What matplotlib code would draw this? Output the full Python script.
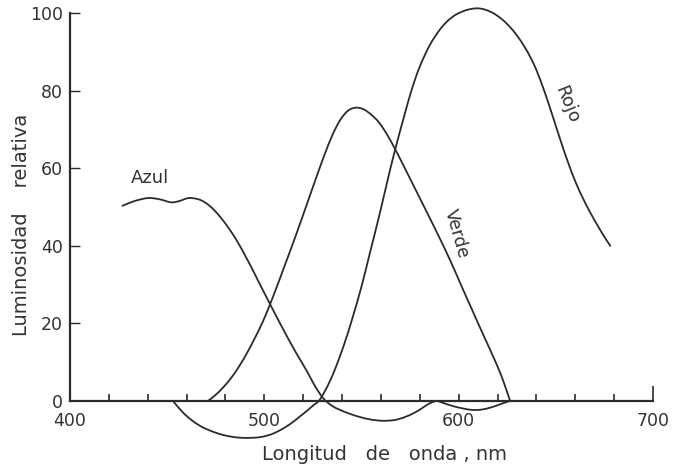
import matplotlib
matplotlib.use("Agg")
import numpy as np
import matplotlib.pyplot as plt
from matplotlib.path import Path
from matplotlib.patches import PathPatch
from matplotlib.ticker import FixedLocator

# Curvas de luminosidad relativa (longitud de onda en nm, luminosidad relativa)
azul_nm = [427, 433, 440, 446, 452, 456, 461, 466, 470, 474, 478, 482, 486, 490, 494,
           498, 502, 506, 510, 514, 518, 522, 525, 528, 531, 535, 539, 544, 549, 555, 561,
           567, 572, 577, 581, 584, 587, 589, 592, 597, 602, 607, 612, 617, 621, 625, 626.5]
azul_val = [50.3, 51.5, 52.3, 52.0, 51.2, 51.5, 52.3, 52.0, 51.0, 49.3, 47.0, 44.3, 41.2, 37.6, 33.8,
            29.8, 25.9, 22.0, 18.2, 14.5, 11.0, 7.6, 4.8, 2.3, 0.3, -1.3, -2.3, -3.3, -4.1, -4.8, -5.1,
            -4.9, -4.2, -3.1, -1.9, -0.9, -0.2, 0.0, -0.5, -1.3, -1.9, -2.3, -2.2, -1.6, -0.9, -0.2, 0.0]

verde_nm = [471, 475, 479, 483, 487, 491, 495, 499, 503, 507, 511, 515, 519, 523, 527,
            531, 535, 539, 543, 547, 551, 555, 559, 563, 567, 571, 575, 580, 585, 590,
            594, 598, 602, 607, 611, 616, 620, 623, 626.5]
verde_val = [0.0, 1.6, 3.6, 6.0, 8.9, 12.3, 16.1, 20.2, 25.0, 30.2, 35.6, 41.0, 46.6, 52.3, 58.0,
             63.5, 68.5, 72.4, 74.8, 75.6, 75.2, 73.8, 71.8, 68.8, 65.2, 61.3, 57.3, 52.3, 47.3, 42.2,
             38.0, 33.6, 29.0, 23.4, 18.9, 13.4, 8.9, 5.1, 0.0]

rojo_nm = [453, 458, 463, 468, 474, 480, 486, 492, 498, 504, 510, 515, 519, 522, 525, 528,
           531, 534, 537, 541, 545, 550, 554, 559, 563, 567, 572, 576, 580, 585,
           590, 594, 598, 602, 606, 610, 614, 618, 622, 626, 630, 634, 637, 640, 644, 648,
           652, 656, 660, 664, 668, 672, 675, 678]
rojo_val = [0.0, -2.9, -5.1, -6.7, -8.0, -8.9, -9.4, -9.5, -9.3, -8.5, -7.0, -5.3, -3.7, -2.5, -1.2, 0.0,
            2.4, 5.4, 9.0, 14.5, 20.8, 29.5, 37.5, 47.5, 56.0, 64.2, 73.5, 80.5, 86.2, 91.6,
            95.5, 97.8, 99.4, 100.4, 101.0, 101.2, 100.8, 99.9, 98.5, 96.6, 94.2, 91.2, 88.5, 85.3, 80.0, 74.0,
            67.8, 61.9, 56.6, 52.2, 48.3, 44.8, 42.3, 40.0]

x_ticks_labeled = [400, 500, 600, 700]
x_ticks_minor = [420, 440, 460, 480, 520, 540, 560, 580, 620, 640, 660, 680]
y_ticks = [0, 20, 40, 60, 80, 100]

ink = "#2b2b2b"
text_ink = "#333333"


def smooth_path(xs, ys):
    """Catmull-Rom curve through the given points, as cubic Bezier segments."""
    p = np.column_stack([xs, ys]).astype(float)
    ext = np.vstack([p[0], p, p[-1]])
    verts = [p[0]]
    codes = [Path.MOVETO]
    for i in range(1, len(ext) - 2):
        p0, p1, p2, p3 = ext[i - 1], ext[i], ext[i + 1], ext[i + 2]
        c1 = p1 + (p2 - p0) / 6.0
        c2 = p2 - (p3 - p1) / 6.0
        verts += [c1, c2, p2]
        codes += [Path.CURVE4] * 3
    return Path(verts, codes)


fig = plt.figure(figsize=(6.75, 4.72), dpi=100)
ax = fig.add_axes([70 / 675, 1 - 401 / 472, 583 / 675, 388 / 472])

for nm, val in ((azul_nm, azul_val), (verde_nm, verde_val), (rojo_nm, rojo_val)):
    ax.add_patch(PathPatch(smooth_path(nm, val), facecolor="none", edgecolor=ink,
                           lw=1.3, clip_on=False, capstyle="round", joinstyle="round"))

ax.set_xlim(400, 700)
ax.set_ylim(0, 100)

for side in ("top", "right"):
    ax.spines[side].set_visible(False)
for side in ("left", "bottom"):
    ax.spines[side].set_color(ink)
    ax.spines[side].set_linewidth(1.6)

ax.xaxis.set_major_locator(FixedLocator(x_ticks_labeled))
ax.xaxis.set_minor_locator(FixedLocator(x_ticks_minor))
ax.set_xticklabels([str(v) for v in x_ticks_labeled])
ax.tick_params(axis="x", which="both", direction="in", colors=ink, width=1.2,
               labelcolor=text_ink, labelsize=12.5, pad=8)
ax.tick_params(axis="x", which="major", length=5)
ax.tick_params(axis="x", which="minor", length=5)
ax.xaxis.get_major_ticks()[-1].tick1line.set_markersize(11)
ax.xaxis.get_major_ticks()[0].tick1line.set_visible(False)

ax.yaxis.set_major_locator(FixedLocator(y_ticks))
ax.set_yticklabels([str(v) for v in y_ticks])
ax.tick_params(axis="y", direction="in", length=7, width=1.0, colors=ink,
               labelcolor=text_ink, labelsize=12.5, pad=5)
ax.yaxis.get_major_ticks()[0].tick1line.set_visible(False)

# Curve names
ax.text(441, 57.5, "Azul", fontsize=13, color=text_ink, ha="center", va="center")
ax.text(598.7, 43, "Verde", fontsize=12.5, color=text_ink, ha="center", va="center",
        rotation=-74, rotation_mode="anchor")
ax.text(655.5, 76.3, "Rojo", fontsize=13, color=text_ink, ha="center", va="center",
        rotation=-68, rotation_mode="anchor")

fig.text(384 / 675, 1 - 455 / 472, "Longitud   de   onda , nm", fontsize=14,
         color=text_ink, ha="center", va="center")
fig.text(22 / 675, 1 - 225 / 472, "Luminosidad    relativa", fontsize=14,
         color=text_ink, ha="center", va="center", rotation=90)

fig.savefig("out.png", dpi=100, facecolor="white")
